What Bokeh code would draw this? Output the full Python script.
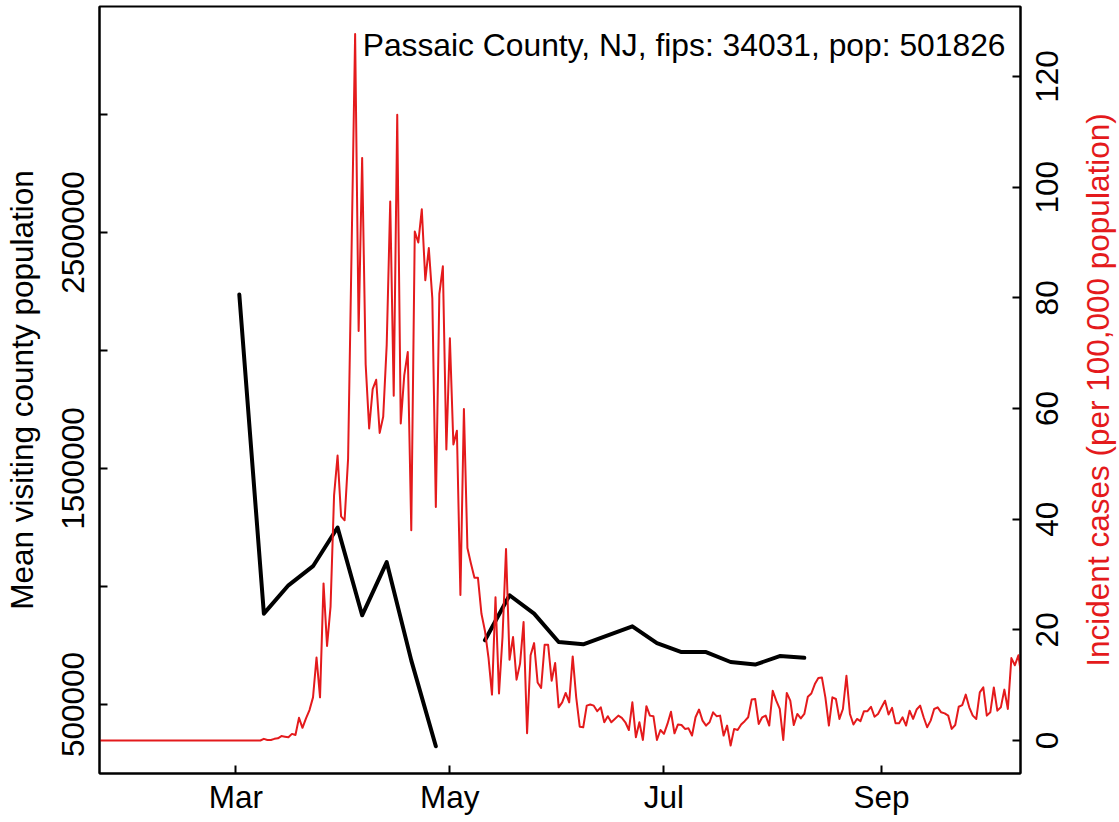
import math
import pandas as pd
from bokeh.plotting import figure
from bokeh.layouts import row
from bokeh.models import Range1d, LinearAxis, FixedTicker, Label
from bokeh.core.properties import value
from bokeh.embed import file_html
from bokeh.resources import INLINE

# ---------------- data ----------------
title_text = "Passaic County, NJ, fips: 34031, pop: 501826"
left_label = "Mean visiting county population"
right_label = "Incident cases (per 100,000 population)"

# daily incident cases per 100,000, starting 2020-01-22
cases_start = "2020-01-22"
cases_per_100k = [
    0, 0, 0, 0, 0, 0, 0, 0, 0, 0, 0, 0, 0, 0, 0, 0, 0, 0, 0, 0,
    0, 0, 0, 0, 0, 0, 0, 0, 0, 0, 0, 0, 0, 0, 0, 0, 0, 0, 0, 0,
    0, 0, 0, 0, 0, 0, 0,
    0.3, 0.1, 0.1, 0.3, 0.4, 0.8, 0.7, 0.6, 1.2, 1.0,
    4.1, 2.3, 4.0, 5.5, 7.8, 15.0, 7.8, 28.4, 17.1, 24.2,
    44.3, 51.5, 40.5, 39.8, 51.0, 89.0, 127.7, 74.0, 105.3, 68.0,
    56.4, 63.5, 65.2, 55.6, 58.5, 71.5, 97.4, 62.3, 113.1, 57.3,
    66.0, 70.2, 38.0, 92.0, 90.0, 96.0, 83.2, 89.0, 79.9, 42.2,
    80.7, 85.7, 52.6, 72.7, 53.5, 56.0, 26.3, 59.9, 34.8, 32.0,
    29.4, 29.4, 22.9, 19.8, 15.0, 8.3, 25.9, 8.5, 18.7, 34.6,
    14.6, 18.7, 11.0, 13.9, 21.4, 1.3, 15.4, 17.6, 10.5, 9.5,
    17.3, 17.3, 10.8, 14.0, 6.0, 6.9, 8.6, 6.9, 15.2, 7.8,
    2.5, 2.4, 6.3, 6.5, 6.3, 5.3, 6.0,
    3.3, 4.4, 3.3, 3.9, 4.5, 4.1, 3.3, 1.9, 6.9, 0.6,
    3.3, 0.1, 6.2, 4.5, 4.4, 0.1, 1.9, 1.2, 3.0, 5.2,
    1.3, 2.9, 2.8, 2.1, 2.2, 0.9, 4.2, 5.6, 3.6, 2.7,
    3.3, 5.1, 4.4, 4.5, 0.9, 2.7, -0.9, 2.1, 1.9, 2.9,
    3.5, 4.2, 7.4, 7.5, 3.0, 4.2, 4.5, 2.7, 9.0, 7.2,
    5.7, 0.1, 8.6, 7.2, 2.8, 4.8, 4.0,
    4.8, 7.9, 8.5, 10.2, 11.3, 11.4, 7.8, 2.7, 7.8, 7.5,
    3.9, 5.7, 11.7, 4.8, 2.9, 3.9, 3.5, 5.3, 5.3, 6.1,
    4.3, 4.8, 6.0, 7.2, 4.7, 5.9, 3.1, 3.1, 4.2, 2.7,
    5.4, 3.9, 5.6, 6.3, 4.2, 2.4, 3.6, 5.7, 6.0, 5.1,
    4.9, 4.5, 2.1, 2.8, 6.1, 6.4, 8.3, 6.0, 4.5, 3.9,
    8.7, 9.6, 4.5, 5.1, 9.6, 5.4, 6.0, 9.2, 5.7, 14.9,
    13.6, 15.4, 11.0,
]

# weekly mean visiting county population
visit_dates = [
    "2020-03-02", "2020-03-09", "2020-03-16", "2020-03-23", "2020-03-30",
    "2020-04-06", "2020-04-13", "2020-04-20", "2020-04-27", "2020-05-04",
    "2020-05-11", "2020-05-18", "2020-05-25", "2020-06-01", "2020-06-08",
    "2020-06-22", "2020-06-29", "2020-07-06", "2020-07-13", "2020-07-20",
    "2020-07-27", "2020-08-03", "2020-08-10",
]
visit_pop = [
    2237000, 885000, 1005000, 1086000, 1250000,
    878000, 1103000, 687000, 323000, float("nan"),
    772000, 963000, 885000, 765000, 755000,
    831000, 760000, 722000, 722000, 680000,
    669000, 705000, 698000,
]

month_ticks = ["2020-03-01", "2020-05-01", "2020-07-01", "2020-09-01"]
month_labels = ["Mar", "May", "Jul", "Sep"]

left_ticks = [500000, 1000000, 1500000, 2000000, 2500000, 3000000]
left_tick_labels = ["500000", "", "1500000", "", "2500000", ""]
right_ticks = [0, 20, 40, 60, 80, 100, 120]
right_tick_labels = ["0", "20", "40", "60", "80", "100", "120"]

# ---------------- helpers ----------------
origin = pd.Timestamp("2020-01-01")


def doy(dates):
    return [(pd.Timestamp(d) - origin).days for d in dates]


cases_dates = pd.date_range(cases_start, periods=len(cases_per_100k), freq="D")
cases_x = doy(cases_dates)
visit_x = doy(visit_dates)
tick_x = doy(month_ticks)

FONT = "Liberation Sans"
FS = "31.5px"
RED = "#E41A1C"
H = 820
TOP, BOTTOM = 6, 47
P_W = 1022
P2_W = 96

cases_range = (-5.96, 132.66)

p = figure(width=P_W, height=H, output_backend="svg", toolbar_location=None,
           x_range=Range1d(21.16, 283.6), y_range=Range1d(207600, 3457600),
           min_border_left=99, min_border_right=2,
           min_border_top=TOP, min_border_bottom=BOTTOM)
p.xgrid.visible = False
p.ygrid.visible = False
p.outline_line_color = "black"
p.outline_line_width = 2
p.extra_y_ranges = {"cases": Range1d(*cases_range)}


def style(ax):
    ax.major_tick_in = 8
    ax.major_tick_out = 0
    ax.minor_tick_in = 0
    ax.minor_tick_out = 0
    ax.major_tick_line_width = 2
    ax.axis_line_width = 2
    ax.major_label_text_font = FONT
    ax.major_label_text_font_size = FS
    ax.major_label_text_color = "black"


xa = p.xaxis[0]
style(xa)
xa.ticker = FixedTicker(ticks=tick_x)
xa.major_label_overrides = {t: l for t, l in zip(tick_x, month_labels)}
xa.major_label_standoff = 5

ya = p.yaxis[0]
style(ya)
ya.ticker = FixedTicker(ticks=left_ticks)
ya.major_label_overrides = {t: l for t, l in zip(left_ticks, left_tick_labels)}
ya.major_label_orientation = "vertical"
ya.major_label_standoff = 15
ya.axis_label = left_label
ya.axis_label_text_font = FONT
ya.axis_label_text_font_size = FS
ya.axis_label_text_font_style = "normal"
ya.axis_label_text_color = "black"
ya.axis_label_standoff = 20

# right axis: tick marks only (labels drawn in the side panel figure)
ra = LinearAxis(y_range_name="cases", ticker=FixedTicker(ticks=right_ticks))
style(ra)
ra.major_label_text_font_size = "0px"
ra.major_label_overrides = {t: "" for t in right_ticks}
ra.major_label_standoff = 0
p.add_layout(ra, "right")

p.line(visit_x, visit_pop, line_color="black", line_width=4,
       line_join="round", line_cap="round")
p.line(cases_x, cases_per_100k, y_range_name="cases", line_color=RED,
       line_width=2, line_join="round")

p.add_layout(Label(x=906, y=729, x_units="screen", y_units="screen",
                   text=title_text, text_align="right", text_baseline="alphabetic",
                   text_font=FONT, text_font_size="31.8px", text_color="black"))

# right side panel: tick labels and axis title for the cases axis
p2 = figure(width=P2_W, height=H, output_backend="svg", toolbar_location=None,
            x_range=Range1d(0, P2_W), y_range=Range1d(*cases_range),
            x_axis_type=None, y_axis_type=None,
            min_border_left=0, min_border_right=0,
            min_border_top=TOP, min_border_bottom=BOTTOM)
p2.grid.visible = False
p2.outline_line_color = None
p2.text(x=[24] * len(right_ticks), y=right_ticks, text=right_tick_labels,
        angle=math.pi / 2, text_align="center", text_baseline="alphabetic",
        text_font=value(FONT), text_font_size=value(FS), text_color="black")
p2.text(x=[75], y=[sum(cases_range) / 2], text=[right_label],
        angle=math.pi / 2, text_align="center", text_baseline="alphabetic",
        text_font=value(FONT), text_font_size=value(FS), text_color=RED)

layout = row(p, p2)
open("out.html", "w").write(file_html(layout, INLINE))
